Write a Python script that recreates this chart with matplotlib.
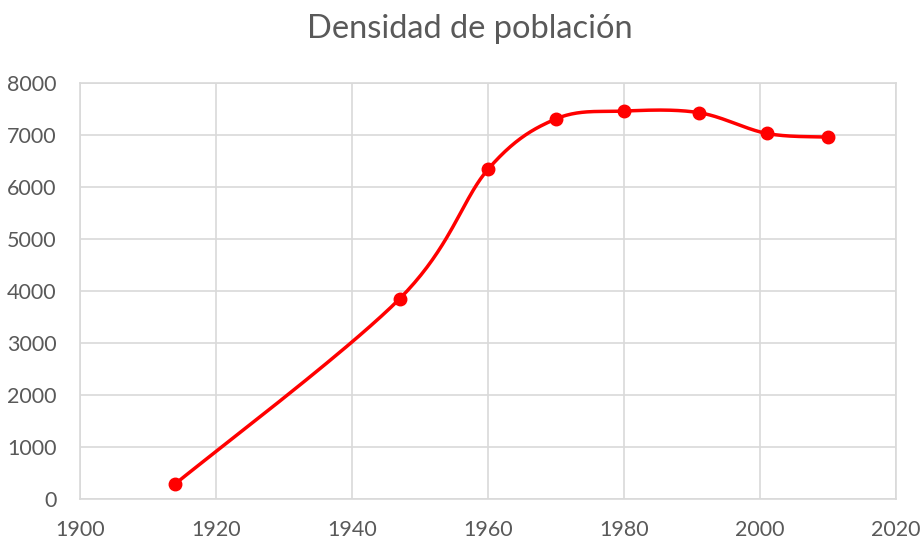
import matplotlib
matplotlib.use("Agg")
import matplotlib.pyplot as plt
import numpy as np

# datos
anios = [1914, 1947, 1960, 1970, 1980, 1991, 2001, 2010]
densidad = [290, 3850, 6340, 7310, 7460, 7430, 7030, 6960]
xticks = [1900, 1920, 1940, 1960, 1980, 2000, 2020]
yticks = [0, 1000, 2000, 3000, 4000, 5000, 6000, 7000, 8000]

plt.rcParams['font.family'] = ['Lato', 'DejaVu Sans']
gris = '#595959'
rejilla = '#d9d9d9'


def suavizar(ax, xs, ys, n=40):
    ''' curva suave tipo Excel (Catmull-Rom en coordenadas de pantalla) '''
    pts = ax.transData.transform(np.column_stack([xs, ys]))
    p = np.vstack([pts[0], pts, pts[-1]])
    out = []
    for i in range(1, len(p) - 2):
        p0, p1, p2, p3 = p[i - 1], p[i], p[i + 1], p[i + 2]
        c1 = p1 + (p2 - p0) / 6
        c2 = p2 - (p3 - p1) / 6
        t = np.linspace(0, 1, n)[:, None]
        seg = ((1 - t) ** 3 * p1 + 3 * (1 - t) ** 2 * t * c1
               + 3 * (1 - t) * t ** 2 * c2 + t ** 3 * p2)
        out.append(seg)
    out = np.vstack(out)
    d = ax.transData.inverted().transform(out)
    return d[:, 0], d[:, 1]


fig = plt.figure(figsize=(9.23, 5.58), dpi=100)
ax = fig.add_axes([80 / 923, 1 - 499 / 558, 816 / 923, 416 / 558])
ax.set_xlim(1900, 2020)
ax.set_ylim(0, 8000)
ax.set_xticks(xticks)
ax.set_yticks(yticks)
ax.grid(True, color=rejilla, linewidth=1.2)
ax.set_axisbelow(True)
for s in ax.spines.values():
    s.set_color(rejilla)
    s.set_linewidth(1.2)
ax.tick_params(length=0, labelsize=15.5, colors=gris)
ax.tick_params(axis='y', pad=17)
ax.tick_params(axis='x', pad=15)

sx, sy = suavizar(ax, anios, densidad)
ax.plot(sx, sy, color='#ff0000', linewidth=2.5, solid_capstyle='round', clip_on=False)
ax.plot(anios, densidad, 'o', color='#ff0000', markersize=9, clip_on=False)

fig.text(470 / 923, 1 - 29 / 558, 'Densidad de población', ha='center', va='center',
         fontsize=23.5, color=gris)

fig.savefig('out.png', dpi=100)
